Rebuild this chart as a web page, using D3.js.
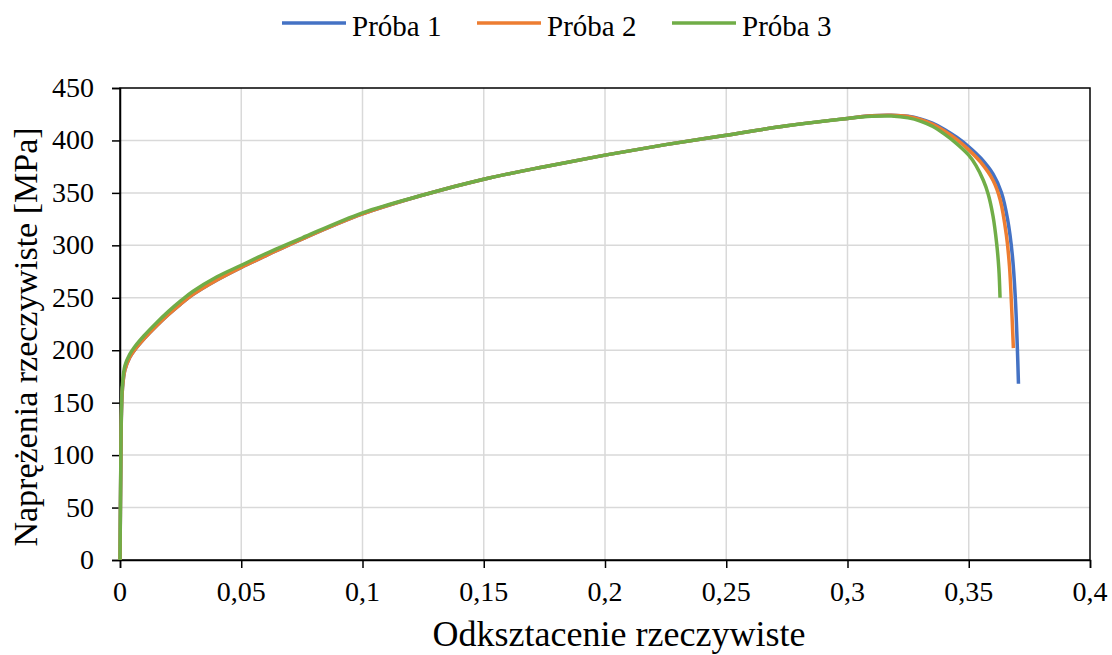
<!DOCTYPE html>
<html>
<head>
<meta charset="utf-8">
<script src="https://cdn.jsdelivr.net/npm/d3@7"></script>
<style>
  body { margin: 0; background: #fff; }
  #chart { position: relative; width: 1112px; height: 655px; font-family: "Liberation Serif", "Times New Roman", serif; color: #000; }
  #chart svg { position: absolute; left: 0; top: 0; display: block; }
  .lbl { position: absolute; white-space: nowrap; line-height: 1; }
</style>
</head>
<body>
<div id="chart"></div>
<script>
const seriesNames = ["Próba 1", "Próba 2", "Próba 3"];
const seriesColors = ["#4472C4", "#ED7D31", "#70AD47"];

const strain1 = [0, 0.0003, 0.0006, 0.001, 0.002, 0.004, 0.006, 0.01, 0.015, 0.02, 0.025, 0.03, 0.04, 0.05, 0.06, 0.075, 0.1, 0.125, 0.15, 0.175, 0.2, 0.225, 0.25, 0.275, 0.3, 0.31, 0.318, 0.325, 0.33, 0.335, 0.34, 0.345, 0.35, 0.355, 0.36, 0.3635, 0.366, 0.368, 0.3692, 0.37, 0.3705];
const stress1 = [0, 80, 140, 163, 181, 193, 200, 211, 223, 234, 244, 253, 267, 279, 290, 306, 330, 348, 363, 375, 386, 396, 405, 414, 421, 423.5, 424, 423, 420.5, 416.5, 410.5, 403, 394, 383, 368, 350, 325, 290, 250, 205, 168];

const strain2 = [0, 0.0003, 0.0006, 0.001, 0.002, 0.004, 0.006, 0.01, 0.015, 0.02, 0.025, 0.03, 0.04, 0.05, 0.06, 0.075, 0.1, 0.125, 0.15, 0.175, 0.2, 0.225, 0.25, 0.275, 0.3, 0.31, 0.318, 0.325, 0.33, 0.335, 0.34, 0.345, 0.35, 0.355, 0.36, 0.363, 0.3655, 0.3668, 0.3676, 0.3684];
const stress2 = [0, 80, 140, 163, 181, 193, 200, 211, 223, 234, 244, 253, 267, 279, 290, 306, 330, 348, 363, 375, 386, 396, 405, 414, 421, 423.5, 424, 422.8, 420, 415.5, 409, 401, 391, 379, 362, 343, 310, 280, 245, 202];

const strain3 = [0, 0.0003, 0.0006, 0.001, 0.002, 0.004, 0.006, 0.01, 0.015, 0.02, 0.025, 0.03, 0.04, 0.05, 0.06, 0.075, 0.1, 0.125, 0.15, 0.175, 0.2, 0.225, 0.25, 0.275, 0.3, 0.31, 0.318, 0.325, 0.33, 0.335, 0.34, 0.345, 0.35, 0.353, 0.356, 0.358, 0.36, 0.3615, 0.3624, 0.3629];
const stress3 = [0, 85, 145, 167, 185, 196, 203, 214, 226, 237, 247, 256, 270, 281, 292, 307, 331, 348, 363, 375, 386, 396, 405, 414, 421, 423, 423.2, 421.5, 418.5, 413.5, 406, 397, 386, 376, 362, 349, 328, 302, 278, 250];

const xTicks = [0, 0.05, 0.1, 0.15, 0.2, 0.25, 0.3, 0.35, 0.4];
const yTicks = [0, 50, 100, 150, 200, 250, 300, 350, 400, 450];

const width = 1112, height = 655;
const margin = { top: 88, right: 22, bottom: 95, left: 120 };

const series = [
  { name: seriesNames[0], color: seriesColors[0], values: strain1.map((d, i) => [d, stress1[i]]) },
  { name: seriesNames[1], color: seriesColors[1], values: strain2.map((d, i) => [d, stress2[i]]) },
  { name: seriesNames[2], color: seriesColors[2], values: strain3.map((d, i) => [d, stress3[i]]) }
];

const chart = d3.select("#chart");
const svg = chart.append("svg")
  .attr("width", width)
  .attr("height", height);

const x = d3.scaleLinear().domain([0, 0.4]).range([margin.left, width - margin.right]);
const y = d3.scaleLinear().domain([0, 450]).range([height - margin.bottom, margin.top]);

// siatka
svg.append("g")
  .attr("stroke", "#d9d9d9")
  .attr("stroke-width", 1.5)
  .call(g => g.selectAll("line.v").data(xTicks.slice(1, -1)).join("line")
    .attr("class", "v")
    .attr("x1", d => x(d)).attr("x2", d => x(d))
    .attr("y1", y(0)).attr("y2", y(450)))
  .call(g => g.selectAll("line.h").data(yTicks.slice(1, -1)).join("line")
    .attr("class", "h")
    .attr("x1", x(0)).attr("x2", x(0.4))
    .attr("y1", d => y(d)).attr("y2", d => y(d)));

// osie (same kreski, podpisy jako HTML bo w SVG nie łapie fontu szeryfowego)
svg.append("g")
  .attr("transform", `translate(0,${y(0)})`)
  .call(d3.axisBottom(x).tickValues(xTicks).tickFormat("").tickSize(8))
  .call(g => g.selectAll("line, path").attr("stroke", "#000").attr("stroke-width", 1.5));

svg.append("g")
  .attr("transform", `translate(${x(0)},0)`)
  .call(d3.axisLeft(y).tickValues(yTicks).tickFormat("").tickSize(8))
  .call(g => g.selectAll("line, path").attr("stroke", "#000").attr("stroke-width", 1.5));

// ramka
svg.append("rect")
  .attr("x", x(0)).attr("y", y(450))
  .attr("width", x(0.4) - x(0)).attr("height", y(0) - y(450))
  .attr("fill", "none").attr("stroke", "#000").attr("stroke-width", 1.5);

// krzywe
const line = d3.line()
  .x(d => x(d[0]))
  .y(d => y(d[1]))
  .curve(d3.curveCatmullRom.alpha(0.5));

svg.append("g")
  .selectAll("path")
  .data(series)
  .join("path")
  .attr("fill", "none")
  .attr("stroke", d => d.color)
  .attr("stroke-width", 3.5)
  .attr("stroke-linejoin", "round")
  .attr("d", d => line(d.values));

// podpisy osi
const fmt = d => d3.format("~g")(d).replace(".", ",");

chart.selectAll("div.xt").data(xTicks).join("div")
  .attr("class", "lbl xt")
  .style("font-size", "28px")
  .style("left", d => x(d) + "px")
  .style("top", "592px")
  .style("transform", "translate(-50%,-50%)")
  .text(fmt);

chart.selectAll("div.yt").data(yTicks).join("div")
  .attr("class", "lbl yt")
  .style("font-size", "28px")
  .style("left", "94px")
  .style("top", d => y(d) + "px")
  .style("transform", "translate(-100%,-50%)")
  .text(d => d);

chart.append("div")
  .attr("class", "lbl")
  .style("font-size", "36px")
  .style("left", "619px")
  .style("top", "634px")
  .style("transform", "translate(-50%,-50%)")
  .text("Odksztacenie rzeczywiste");

chart.append("div")
  .attr("class", "lbl")
  .style("font-size", "34px")
  .style("left", "26px")
  .style("top", "337px")
  .style("transform", "translate(-50%,-50%) rotate(-90deg)")
  .text("Naprężenia rzeczywiste [MPa]");

// legenda
const legendX = [282, 477, 672];
svg.append("g")
  .selectAll("line")
  .data(series)
  .join("line")
  .attr("x1", (d, i) => legendX[i]).attr("x2", (d, i) => legendX[i] + 64)
  .attr("y1", 23).attr("y2", 23)
  .attr("stroke", d => d.color)
  .attr("stroke-width", 3.5);

chart.selectAll("div.lg").data(series).join("div")
  .attr("class", "lbl lg")
  .style("font-size", "29px")
  .style("left", (d, i) => legendX[i] + 70 + "px")
  .style("top", "26px")
  .style("transform", "translate(0,-50%)")
  .text(d => d.name);
</script>
</body>
</html>
